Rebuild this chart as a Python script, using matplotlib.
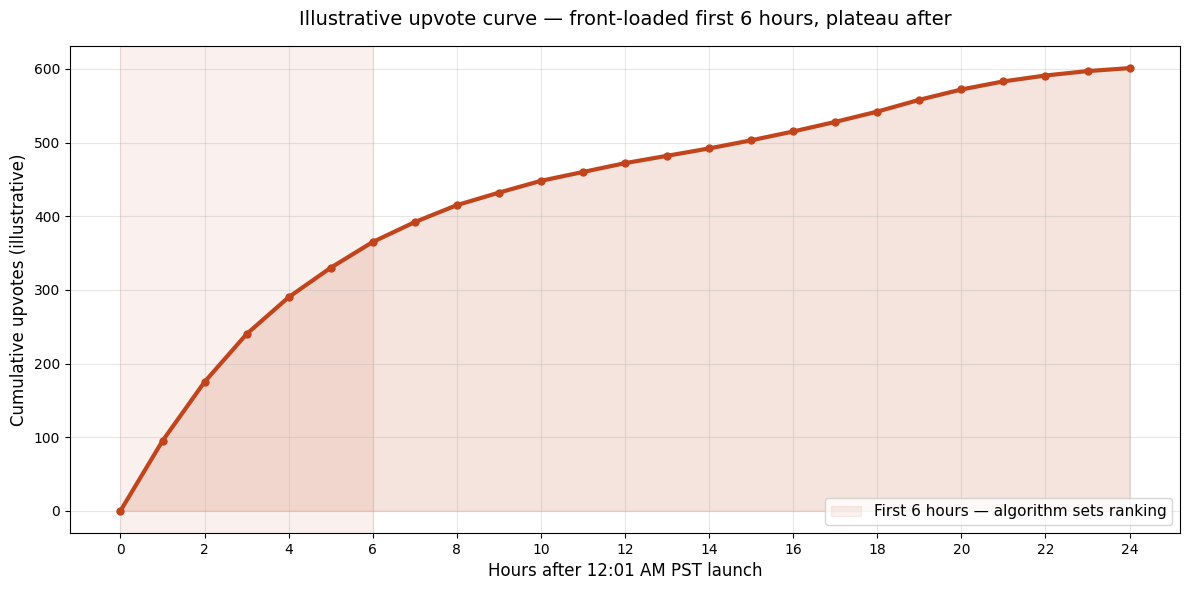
import matplotlib
matplotlib.use("Agg")
import matplotlib.pyplot as plt

hours = list(range(25))
upvotes = [0, 95, 175, 240, 290, 330, 365, 392, 415, 432, 448, 460, 472, 482,
           492, 503, 515, 528, 542, 558, 572, 583, 591, 597, 601]
xticks = list(range(0, 25, 2))
color = "#C2441C"

fig, ax = plt.subplots(figsize=(11.89, 5.90), dpi=100)
ax.axvspan(0, 6, color=color, alpha=0.08, label="First 6 hours \u2014 algorithm sets ranking")
ax.fill_between(hours, upvotes, color=color, alpha=0.15)
ax.plot(hours, upvotes, color=color, linewidth=3, marker="o", markersize=5)
ax.set_xticks(xticks)
ax.grid(True, alpha=0.3)
ax.set_xlabel("Hours after 12:01 AM PST launch", fontsize=12)
ax.set_ylabel("Cumulative upvotes (illustrative)", fontsize=12)
ax.set_title("Illustrative upvote curve \u2014 front-loaded first 6 hours, plateau after", fontsize=14, pad=15)
ax.legend(loc="lower right", fontsize=11)
fig.subplots_adjust(left=70/1189, right=1180/1189, top=1-46/590, bottom=1-533/590)
fig.savefig("out.png")
